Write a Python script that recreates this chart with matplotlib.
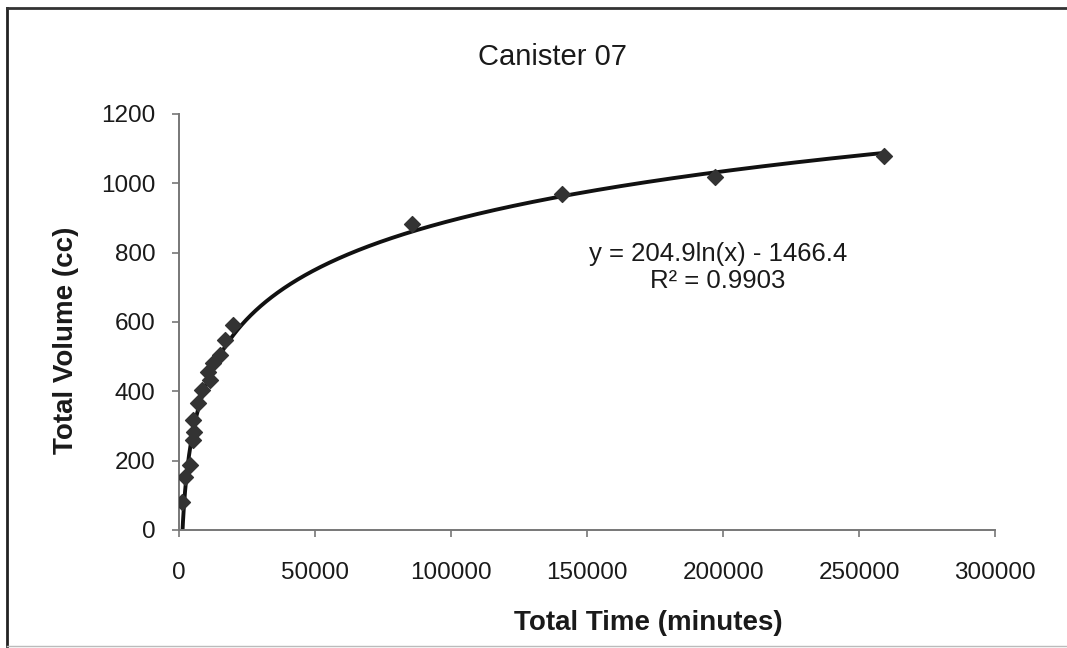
import numpy as np
import matplotlib.pyplot as plt
from matplotlib.lines import Line2D

plt.rcParams['font.family'] = ['Liberation Sans', 'DejaVu Sans']

# data
time_min = [1100, 2200, 4000, 5200, 5600, 5200, 7100, 8300, 11400, 10800,
            12600, 15000, 16900, 19900, 85500, 140900, 197100, 259100]
volume_cc = [82, 154, 187, 260, 284, 317, 365, 404, 433, 457,
             481, 505, 548, 591, 883, 969, 1018, 1079]
slope = 204.9
intercept = -1466.4
r2 = 0.9903

fig = plt.figure(figsize=(10.67, 6.48), dpi=100)
ax = fig.add_axes([0.1678, 0.1821, 0.7648, 0.642])

xx = np.linspace(min(time_min), max(time_min), 3000)
yy = slope * np.log(xx) + intercept
ax.plot(xx, yy, color='#111111', lw=2.8, zorder=2)
ax.scatter(time_min, volume_cc, marker='D', s=65, color='#333333', zorder=3)

ax.set_xlim(0, 300000)
ax.set_ylim(0, 1200)
ax.set_xticks(range(0, 300001, 50000))
ax.set_yticks(range(0, 1201, 200))
ax.tick_params(labelsize=17.5, length=5, width=1.2, color='#777777', direction='out',
               labelcolor='#1a1a1a')
ax.tick_params(axis='x', pad=18)
ax.tick_params(axis='y', pad=12)
for s in ['top', 'right']:
    ax.spines[s].set_visible(False)
for s in ['left', 'bottom']:
    ax.spines[s].set_color('#777777')
    ax.spines[s].set_linewidth(1.4)

fig.text(0.518, 0.912, 'Canister 07', fontsize=21, ha='center', va='center', color='#1a1a1a')
fig.text(0.608, 0.0386, 'Total Time (minutes)', fontsize=20, fontweight='bold',
         ha='center', va='center', color='#1a1a1a')
fig.text(0.0619, 0.475, 'Total Volume (cc)', fontsize=20, fontweight='bold',
         ha='center', va='center', rotation=90, color='#1a1a1a')

ax.text(0.6605, 0.631, 'y = %.1fln(x) - %.1f\nR² = %.4f' % (slope, -intercept, r2),
        transform=ax.transAxes, ha='center', va='center', fontsize=18.5,
        linespacing=1.15, color='#1a1a1a')

# page border (left, top, bottom edges visible in the scan)
fig.lines.append(Line2D([0.0066, 0.0066], [0.003, 0.988], transform=fig.transFigure,
                        color='#222222', lw=2))
fig.lines.append(Line2D([0.0066, 1.0], [0.988, 0.988], transform=fig.transFigure,
                        color='#333333', lw=2))
fig.lines.append(Line2D([0.0066, 1.0], [0.003, 0.003], transform=fig.transFigure,
                        color='#bbbbbb', lw=1))

fig.savefig('out.png', dpi=100)
